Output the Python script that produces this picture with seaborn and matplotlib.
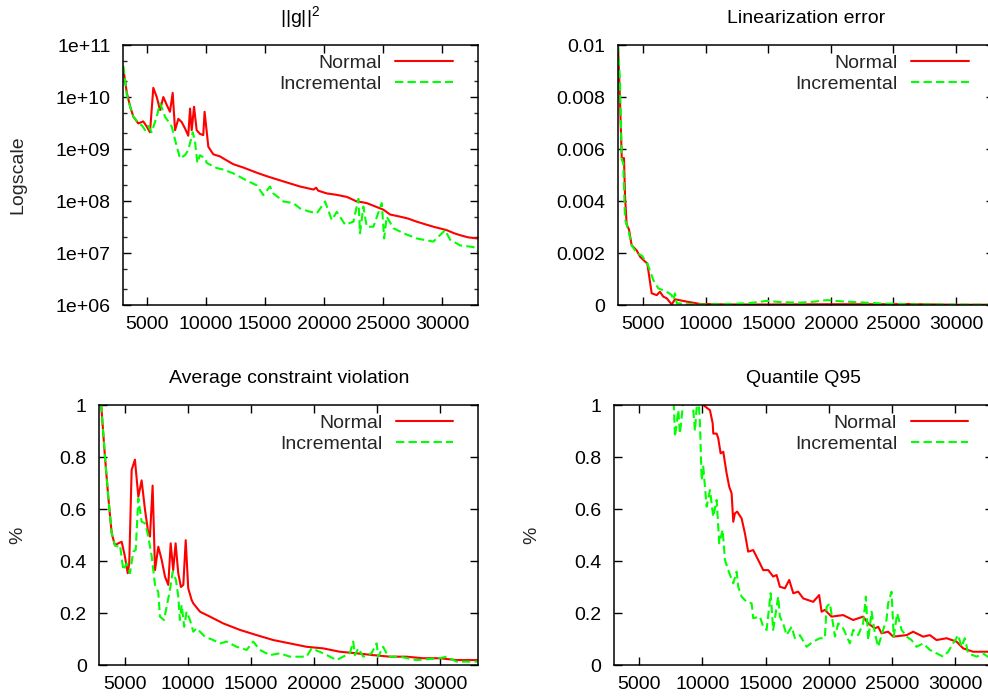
import matplotlib
matplotlib.use("Agg")
import matplotlib.pyplot as plt
import seaborn as sns
from matplotlib.ticker import FixedLocator, LogLocator, NullFormatter, FixedFormatter

# ---------------- data ----------------
x_ticks = [5000, 10000, 15000, 20000, 25000, 30000]
x_tick_labels = ["5000", "10000", "15000", "20000", "25000", "30000"]

# ||g||^2 (log scale)
g_x_normal = [3000, 3300, 3600, 3850, 4270, 4690, 4980, 5260, 5540, 5830, 6110, 6390, 6670, 6950,
              7180, 7380, 7660, 7940, 8220, 8500, 8650, 8790, 8990, 9210, 9490, 9770, 9880, 10200,
              10620, 11190, 11610, 12310, 13160, 14300, 15140, 16500, 17960, 19100, 19320, 19500,
              20220, 21000, 21920, 22760, 23200, 23610, 24300, 25020, 25580, 26430, 27100, 27840,
              28500, 29250, 30380, 31000, 31510, 32200, 33000]
g_normal = [3.5e10, 1.2e10, 6.3e9, 4.2e9, 3.1e9, 3.4e9, 2.7e9, 2.1e9, 1.5e10, 1.0e10, 5.6e9, 1.0e10,
            7.1e9, 5.2e9, 1.2e10, 2.3e9, 3.8e9, 3.3e9, 2.5e9, 1.8e9, 6.0e9, 2.3e9, 6.5e9, 2.3e9,
            1.95e9, 1.85e9, 5.2e9, 1.1e9, 7.9e8, 7.2e8, 6.3e8, 5.1e8, 4.4e8, 3.5e8, 3.0e8, 2.4e8,
            1.9e8, 1.66e8, 1.8e8, 1.58e8, 1.4e8, 1.32e8, 1.2e8, 9.8e7, 9.5e7, 9.1e7, 7.9e7, 6.8e7,
            5.5e7, 5.0e7, 4.6e7, 4.0e7, 3.6e7, 3.2e7, 2.75e7, 2.4e7, 2.2e7, 2.0e7, 1.9e7]
g_x_incr = [3000, 3300, 3600, 3850, 4270, 4600, 4840, 5100, 5400, 5830, 6110, 6530, 7100, 7380,
            7800, 8220, 8500, 8880, 9070, 9270, 9490, 9920, 10060, 10910, 11500, 12310, 13000,
            13730, 14300, 14850, 15420, 15700, 16550, 17390, 17960, 18700, 19380, 20080, 20650,
            21070, 21780, 22480, 22900, 23040, 23320, 23610, 24170, 24880, 25080, 25300, 25860,
            26710, 27840, 29250, 30240, 30670, 31510, 32640, 33000]
g_incr = [4.0e10, 1.1e10, 6.3e9, 4.2e9, 3.2e9, 2.8e9, 2.3e9, 2.8e9, 2.1e9, 4.2e9, 7.6e9, 4.2e9,
          2.7e9, 1.5e9, 6.6e8, 7.6e8, 9.5e8, 2.1e9, 1.4e9, 5.4e8, 7.6e8, 6.6e8, 5.4e8, 4.3e8, 4.0e8,
          3.4e8, 2.8e8, 2.3e8, 2.0e8, 1.3e8, 1.9e8, 1.4e8, 9.8e7, 9.1e7, 7.2e7, 6.3e7, 5.8e7, 9.8e7,
          4.3e7, 6.2e7, 3.5e7, 4.0e7, 1.1e8, 2.4e7, 7.8e7, 3.2e7, 3.2e7, 9.1e7, 1.9e7, 5.0e7, 3.0e7,
          2.4e7, 1.9e7, 1.66e7, 2.75e7, 1.8e7, 1.4e7, 1.3e7, 1.07e7]

# Linearization error
lin_x_normal = [3000, 3150, 3300, 3480, 3560, 3690, 3880, 4090, 4490, 4760, 5160, 5340, 5690, 6090,
                6350, 6620, 6890, 7290, 7550, 8490, 9550, 12000, 15000, 20000, 25000, 26000, 27000,
                30000, 33000]
lin_normal = [0.0100, 0.0080, 0.00565, 0.00565, 0.0042, 0.0031, 0.0029, 0.0023, 0.0021, 0.00186,
              0.00167, 0.0016, 0.00045, 0.00038, 0.00051, 0.00032, 0.00026, 0.00002, 0.00022,
              0.00013, 0.00004, 0.00002, 0.00002, 0.00003, 0.00003, 0.00004, 0.00003, 0.00001,
              0.00001]
lin_x_incr = [3000, 3150, 3300, 3420, 3560, 3820, 4090, 4490, 4900, 5340, 5820, 6220, 6890, 7290,
              7420, 7550, 7690, 8500, 10000, 12000, 13500, 14900, 16000, 17500, 18500, 19700, 20500,
              22000, 24000, 26000, 28000, 33000]
lin_incr = [0.0100, 0.0087, 0.0056, 0.00545, 0.0033, 0.0029, 0.0023, 0.0020, 0.0019, 0.0016,
            0.00096, 0.00064, 0.00051, 0.00038, 0.00019, 0.00045, 0.00007, 0.00003, 0.00002,
            0.00004, 0.00007, 0.00016, 0.00011, 0.00009, 0.00012, 0.00019, 0.00015, 0.00011,
            0.00006, 0.00003, 0.00002, 0.00001]

# Average constraint violation
avg_x_normal = [3000, 3450, 3710, 3980, 4240, 4500, 4770, 5030, 5250, 5370, 5560, 5820, 6090, 6350,
                6620, 6880, 7010, 7220, 7410, 7670, 7940, 8200, 8460, 8650, 8850, 9040, 9250, 9460,
                9650, 9840, 10040, 10310, 10440, 10970, 11760, 12810, 14130, 15450, 16770, 18090,
                19410, 20720, 22040, 23360, 24680, 26000, 27300, 28630, 29950, 31270, 33000]
avg_normal = [1.1, 0.80, 0.647, 0.507, 0.46, 0.468, 0.474, 0.417, 0.353, 0.391, 0.75, 0.79, 0.647,
              0.71, 0.596, 0.507, 0.494, 0.69, 0.365, 0.455, 0.404, 0.34, 0.308, 0.468, 0.365,
              0.468, 0.353, 0.30, 0.308, 0.48, 0.295, 0.25, 0.237, 0.205, 0.186, 0.16, 0.135,
              0.115, 0.096, 0.083, 0.07, 0.064, 0.051, 0.045, 0.038, 0.032, 0.032, 0.026, 0.026,
              0.019, 0.019]
avg_x_incr = [3000, 3450, 3710, 3980, 4240, 4500, 4640, 4900, 5170, 5430, 5690, 5880, 6090, 6350,
              6620, 6880, 7150, 7410, 7670, 7800, 8120, 8330, 8590, 8810, 9070, 9250, 9380, 9520,
              9720, 9910, 10180, 10440, 10710, 11360, 12020, 12550, 13080, 13870, 14660, 15180,
              15710, 16500, 17300, 18090, 19410, 19800, 20720, 21780, 22300, 22830, 23100, 23230,
              23500, 23890, 24550, 24950, 25080, 25470, 25870, 26790, 28110, 29950, 30480, 31270,
              33000]
avg_incr = [1.1, 0.80, 0.647, 0.507, 0.46, 0.455, 0.46, 0.365, 0.391, 0.353, 0.436, 0.442, 0.641,
            0.551, 0.545, 0.494, 0.417, 0.308, 0.28, 0.186, 0.173, 0.224, 0.288, 0.359, 0.327,
            0.263, 0.173, 0.231, 0.147, 0.205, 0.173, 0.128, 0.141, 0.109, 0.096, 0.083, 0.09,
            0.07, 0.058, 0.09, 0.058, 0.038, 0.045, 0.032, 0.032, 0.064, 0.045, 0.019, 0.032,
            0.045, 0.09, 0.038, 0.064, 0.032, 0.045, 0.083, 0.032, 0.07, 0.032, 0.032, 0.019,
            0.026, 0.032, 0.013, 0.013]

# Quantile Q95
q_x_normal = [9500, 10065, 10595, 10810, 10860, 11125, 11250, 11440, 11650, 11915, 12120, 12310,
              12440, 12570, 12750, 13100, 13360, 13620, 14020, 14550, 14810, 15210, 15600, 15870,
              16130, 16530, 16870, 17190, 17580, 17980, 18770, 19240, 19430, 19690, 20220, 21140,
              21930, 22720, 23120, 23650, 23910, 24180, 24700, 25100, 26160, 26680, 27470, 28000,
              28530, 29320, 30110, 30640, 31430, 32570, 33000]
q_normal = [1.1, 1.0, 0.98, 0.93, 0.89, 0.89, 0.872, 0.814, 0.82, 0.737, 0.686, 0.66, 0.551, 0.583,
            0.59, 0.564, 0.507, 0.436, 0.442, 0.391, 0.365, 0.365, 0.34, 0.346, 0.301, 0.295,
            0.327, 0.276, 0.282, 0.256, 0.243, 0.269, 0.205, 0.212, 0.186, 0.192, 0.173, 0.186,
            0.16, 0.141, 0.147, 0.122, 0.128, 0.109, 0.115, 0.128, 0.109, 0.115, 0.096, 0.103,
            0.09, 0.064, 0.051, 0.051, 0.05]
q_x_incr = [7500, 7830, 8090, 8220, 8435, 8700, 9100, 9274, 9408, 9543, 9650, 9804, 9938, 10065,
            10334, 10595, 10856, 11125, 11330, 11600, 11782, 12043, 12233, 12440, 12706, 12832,
            13100, 13500, 13894, 14020, 14550, 14810, 15080, 15400, 15600, 16000, 16130, 16390,
            16660, 17060, 17320, 17715, 18245, 18770, 19300, 19690, 19830, 20090, 20490, 20750,
            21140, 21670, 21930, 22330, 22720, 22940, 23120, 23390, 23650, 23910, 24300, 24570,
            24700, 24970, 25140, 25420, 25760, 26160, 26550, 26950, 27470, 28000, 28530, 29050,
            29450, 29840, 30240, 30510, 30770, 31030, 31700, 32220, 32570, 33000]
q_incr = [1.3, 0.878, 0.98, 0.89, 0.99, 1.3, 1.2, 0.98, 0.90, 0.99, 1.05, 0.93, 0.71, 0.763,
          0.609, 0.673, 0.57, 0.635, 0.468, 0.52, 0.404, 0.365, 0.34, 0.314, 0.359, 0.301, 0.263,
          0.243, 0.237, 0.18, 0.186, 0.147, 0.135, 0.276, 0.135, 0.263, 0.186, 0.16, 0.115, 0.147,
          0.103, 0.115, 0.07, 0.09, 0.103, 0.103, 0.224, 0.237, 0.109, 0.16, 0.141, 0.083, 0.135,
          0.115, 0.16, 0.263, 0.096, 0.205, 0.122, 0.07, 0.135, 0.173, 0.237, 0.282, 0.109, 0.199,
          0.135, 0.109, 0.096, 0.07, 0.083, 0.058, 0.045, 0.032, 0.051, 0.083, 0.115, 0.07, 0.103,
          0.045, 0.032, 0.045, 0.032, 0.04]

lin_ticks = [0, 0.002, 0.004, 0.006, 0.008, 0.01]
lin_tick_labels = ["0", "0.002", "0.004", "0.006", "0.008", "0.01"]
pct_ticks = [0, 0.2, 0.4, 0.6, 0.8, 1.0]
pct_tick_labels = ["0", "0.2", "0.4", "0.6", "0.8", "1"]
log_ticks = [1e6, 1e7, 1e8, 1e9, 1e10, 1e11]
log_tick_labels = ["1e+06", "1e+07", "1e+08", "1e+09", "1e+10", "1e+11"]

# ---------------- style ----------------
sns.set_theme(style="ticks")
FS = 14
plt.rcParams.update({
    "font.family": ["Liberation Sans", "DejaVu Sans"],
    "mathtext.fontset": "custom",
    "mathtext.rm": "Liberation Sans",
    "mathtext.default": "regular",
    "axes.edgecolor": "black",
    "axes.linewidth": 1.1,
    "font.size": FS,
})

W, H = 988, 698
fig = plt.figure(figsize=(W / 100, H / 100), dpi=100)
fig.patch.set_facecolor("white")

RED = "#ff0000"
GREEN = "#00ff00"


def make_axes(left, top, width, height=260):
    return fig.add_axes([left / W, 1 - (top + height) / H, width / W, height / H])


def style_axes(ax, title, top_px, right_px):
    ax.set_xlim(3000, 33000)
    ax.xaxis.set_major_locator(FixedLocator(x_ticks))
    ax.xaxis.set_major_formatter(FixedFormatter(x_tick_labels))
    ax.tick_params(which="major", direction="in", length=5.5, width=1.0, top=True, right=True,
                   labelsize=FS, colors="black")
    ax.tick_params(axis="x", pad=8)
    ax.tick_params(axis="y", pad=9)
    ax.set_title(title, fontsize=FS, pad=16, color="black")
    ax.set_xlabel("")
    ax.grid(False)
    for s in ax.spines.values():
        s.set_color("black")
        s.set_linewidth(1.1)
    leg = ax.legend(loc="upper right",
                    bbox_to_anchor=((right_px - 25) / W, 1 - (top_px + 9) / H),
                    bbox_transform=fig.transFigure, frameon=False, markerfirst=False,
                    fontsize=FS, borderpad=0, borderaxespad=0, handlelength=2.95,
                    handletextpad=0.7, labelspacing=0.2)
    return leg


def draw(ax, xn, yn, xi, yi):
    sns.lineplot(x=xn, y=yn, ax=ax, color=RED, linewidth=1.5, label="Normal",
                 estimator=None, sort=False)
    sns.lineplot(x=xi, y=yi, ax=ax, color=GREEN, linewidth=1.5, label="Incremental",
                 estimator=None, sort=False, linestyle=(0, (4, 2)))


# top-left: ||g||^2
ax1 = make_axes(123.3, 45, 354.4)
draw(ax1, g_x_normal, g_normal, g_x_incr, g_incr)
ax1.set_yscale("log")
ax1.set_ylim(1e6, 1e11)
ax1.yaxis.set_major_locator(FixedLocator(log_ticks))
ax1.yaxis.set_major_formatter(FixedFormatter(log_tick_labels))
ax1.yaxis.set_minor_locator(LogLocator(base=10, subs=[2.0, 5.0]))
ax1.yaxis.set_minor_formatter(NullFormatter())
ax1.tick_params(axis="y", which="minor", direction="in", length=3, width=1.0, right=True)
style_axes(ax1, "||g||$^{2}$", 45, 477.7)
ax1.set_ylabel("Logscale", fontsize=FS, va="center")
ax1.yaxis.set_label_coords((18 - 123.3) / 354.4, 0.5)

# top-right: linearization error
ax2 = make_axes(618, 45, 375.6)
draw(ax2, lin_x_normal, lin_normal, lin_x_incr, lin_incr)
ax2.set_ylim(0, 0.01)
ax2.yaxis.set_major_locator(FixedLocator(lin_ticks))
ax2.yaxis.set_major_formatter(FixedFormatter(lin_tick_labels))
style_axes(ax2, "Linearization error", 45, 993.6)
ax2.set_ylabel("")

# bottom-left: average constraint violation
ax3 = make_axes(99.3, 405, 379)
draw(ax3, avg_x_normal, avg_normal, avg_x_incr, avg_incr)
ax3.set_ylim(0, 1)
ax3.yaxis.set_major_locator(FixedLocator(pct_ticks))
ax3.yaxis.set_major_formatter(FixedFormatter(pct_tick_labels))
style_axes(ax3, "Average constraint violation", 405, 478.3)
ax3.set_ylabel("%", fontsize=FS, va="center")
ax3.yaxis.set_label_coords((18 - 99.3) / 379, 0.5)

# bottom-right: quantile Q95
ax4 = make_axes(614, 405, 379)
draw(ax4, q_x_normal, q_normal, q_x_incr, q_incr)
ax4.set_ylim(0, 1)
ax4.yaxis.set_major_locator(FixedLocator(pct_ticks))
ax4.yaxis.set_major_formatter(FixedFormatter(pct_tick_labels))
style_axes(ax4, "Quantile Q95", 405, 993)
ax4.set_ylabel("%", fontsize=FS, va="center")
ax4.yaxis.set_label_coords((532 - 614) / 379, 0.5)

fig.savefig("out.png", dpi=100, facecolor="white")
